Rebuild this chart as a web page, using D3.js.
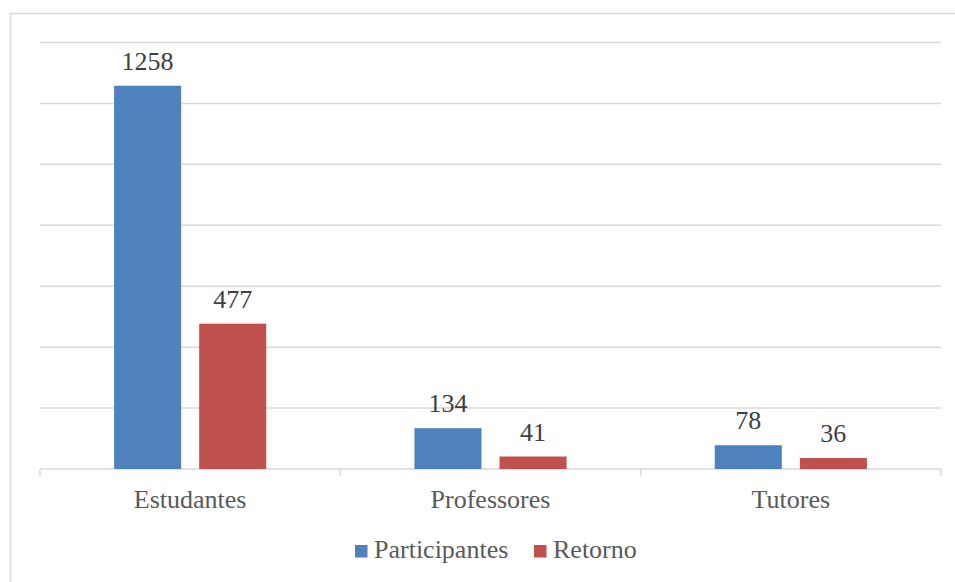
<!DOCTYPE html>
<html>
<head>
<meta charset="utf-8">
<script src="https://cdn.jsdelivr.net/npm/d3@7"></script>
<style>
  body { margin: 0; background: #ffffff; }
</style>
</head>
<body>
<div id="viz"></div>
<script>
const categories = ["Estudantes", "Professores", "Tutores"]
const seriesNames = ["Participantes", "Retorno"]
const participantes = [1258, 134, 78]
const retorno = [477, 41, 36]
const yTicks = [0, 200, 400, 600, 800, 1000, 1200, 1400]

document.addEventListener("DOMContentLoaded", () => {

  const width = 955
  const height = 582
  const font = "'Liberation Serif', 'DejaVu Serif', serif"
  const colors = ["#4f81bd", "#c0504d"]
  const fontSize = 26

  const svg = d3.select("#viz").append("svg")
    .attr("width", width)
    .attr("height", height)

  // chart frame
  svg.append("rect")
    .attr("x", 10.5)
    .attr("y", 13.5)
    .attr("width", 960)
    .attr("height", 600)
    .attr("fill", "none")
    .attr("stroke", "#d9d9d9")
    .attr("stroke-width", 1.5)

  const x0 = d3.scaleBand()
    .domain(categories)
    .range([40, 941])
    .padding(0)

  const bw = x0.bandwidth()
  const x1 = d3.scaleBand()
    .domain(seriesNames)
    .range([bw * 0.2467, bw * 0.7533])
    .paddingInner(0.212)
    .paddingOuter(0)

  const y = d3.scaleLinear()
    .domain([0, 1400])
    .range([469, 42.5])

  // gridlines
  svg.append("g")
    .selectAll("line")
    .data(yTicks.slice(1))
    .enter()
    .append("line")
    .attr("x1", 40)
    .attr("x2", 941)
    .attr("y1", d => y(d))
    .attr("y2", d => y(d))
    .attr("stroke", "#d9d9d9")
    .attr("stroke-width", 1.5)

  // category axis
  svg.append("line")
    .attr("x1", 40)
    .attr("x2", 941)
    .attr("y1", y(0))
    .attr("y2", y(0))
    .attr("stroke", "#d9d9d9")
    .attr("stroke-width", 1.5)

  const boundaries = categories.map(c => x0(c)).concat([x0.range()[1]])
  svg.append("g")
    .selectAll("line")
    .data(boundaries)
    .enter()
    .append("line")
    .attr("x1", d => d)
    .attr("x2", d => d)
    .attr("y1", y(0))
    .attr("y2", y(0) + 7)
    .attr("stroke", "#d9d9d9")
    .attr("stroke-width", 1.5)

  svg.append("g")
    .selectAll("text")
    .data(categories)
    .enter()
    .append("text")
    .attr("x", d => x0(d) + bw / 2)
    .attr("y", 508)
    .attr("text-anchor", "middle")
    .attr("font-family", font)
    .attr("font-size", fontSize)
    .attr("fill", "#595959")
    .text(d => d)

  // bars
  const rows = categories.map((c, i) => ({
    cat: c,
    values: [
      { key: seriesNames[0], value: participantes[i], color: colors[0] },
      { key: seriesNames[1], value: retorno[i], color: colors[1] }
    ]
  }))

  const groups = svg.append("g")
    .selectAll("g")
    .data(rows)
    .enter()
    .append("g")
    .attr("transform", d => `translate(${x0(d.cat)},0)`)

  groups.selectAll("rect")
    .data(d => d.values)
    .enter()
    .append("rect")
    .attr("x", d => x1(d.key))
    .attr("width", x1.bandwidth())
    .attr("y", d => y(d.value))
    .attr("height", d => y(0) - y(d.value))
    .attr("fill", d => d.color)

  groups.selectAll("text")
    .data(d => d.values)
    .enter()
    .append("text")
    .attr("x", d => x1(d.key) + x1.bandwidth() / 2)
    .attr("y", d => y(d.value) - 16)
    .attr("text-anchor", "middle")
    .attr("font-family", font)
    .attr("font-size", fontSize)
    .attr("fill", "#404040")
    .text(d => d.value)

  // legend
  const legendX = [355, 534]
  const legend = svg.append("g")
    .selectAll("g")
    .data(seriesNames)
    .enter()
    .append("g")
    .attr("transform", (d, i) => `translate(${legendX[i]},545)`)

  legend.append("rect")
    .attr("width", 12.5)
    .attr("height", 12.5)
    .attr("fill", (d, i) => colors[i])

  legend.append("text")
    .attr("x", 19)
    .attr("y", 13)
    .attr("font-family", font)
    .attr("font-size", fontSize)
    .attr("fill", "#595959")
    .text(d => d)

})
</script>
</body>
</html>
